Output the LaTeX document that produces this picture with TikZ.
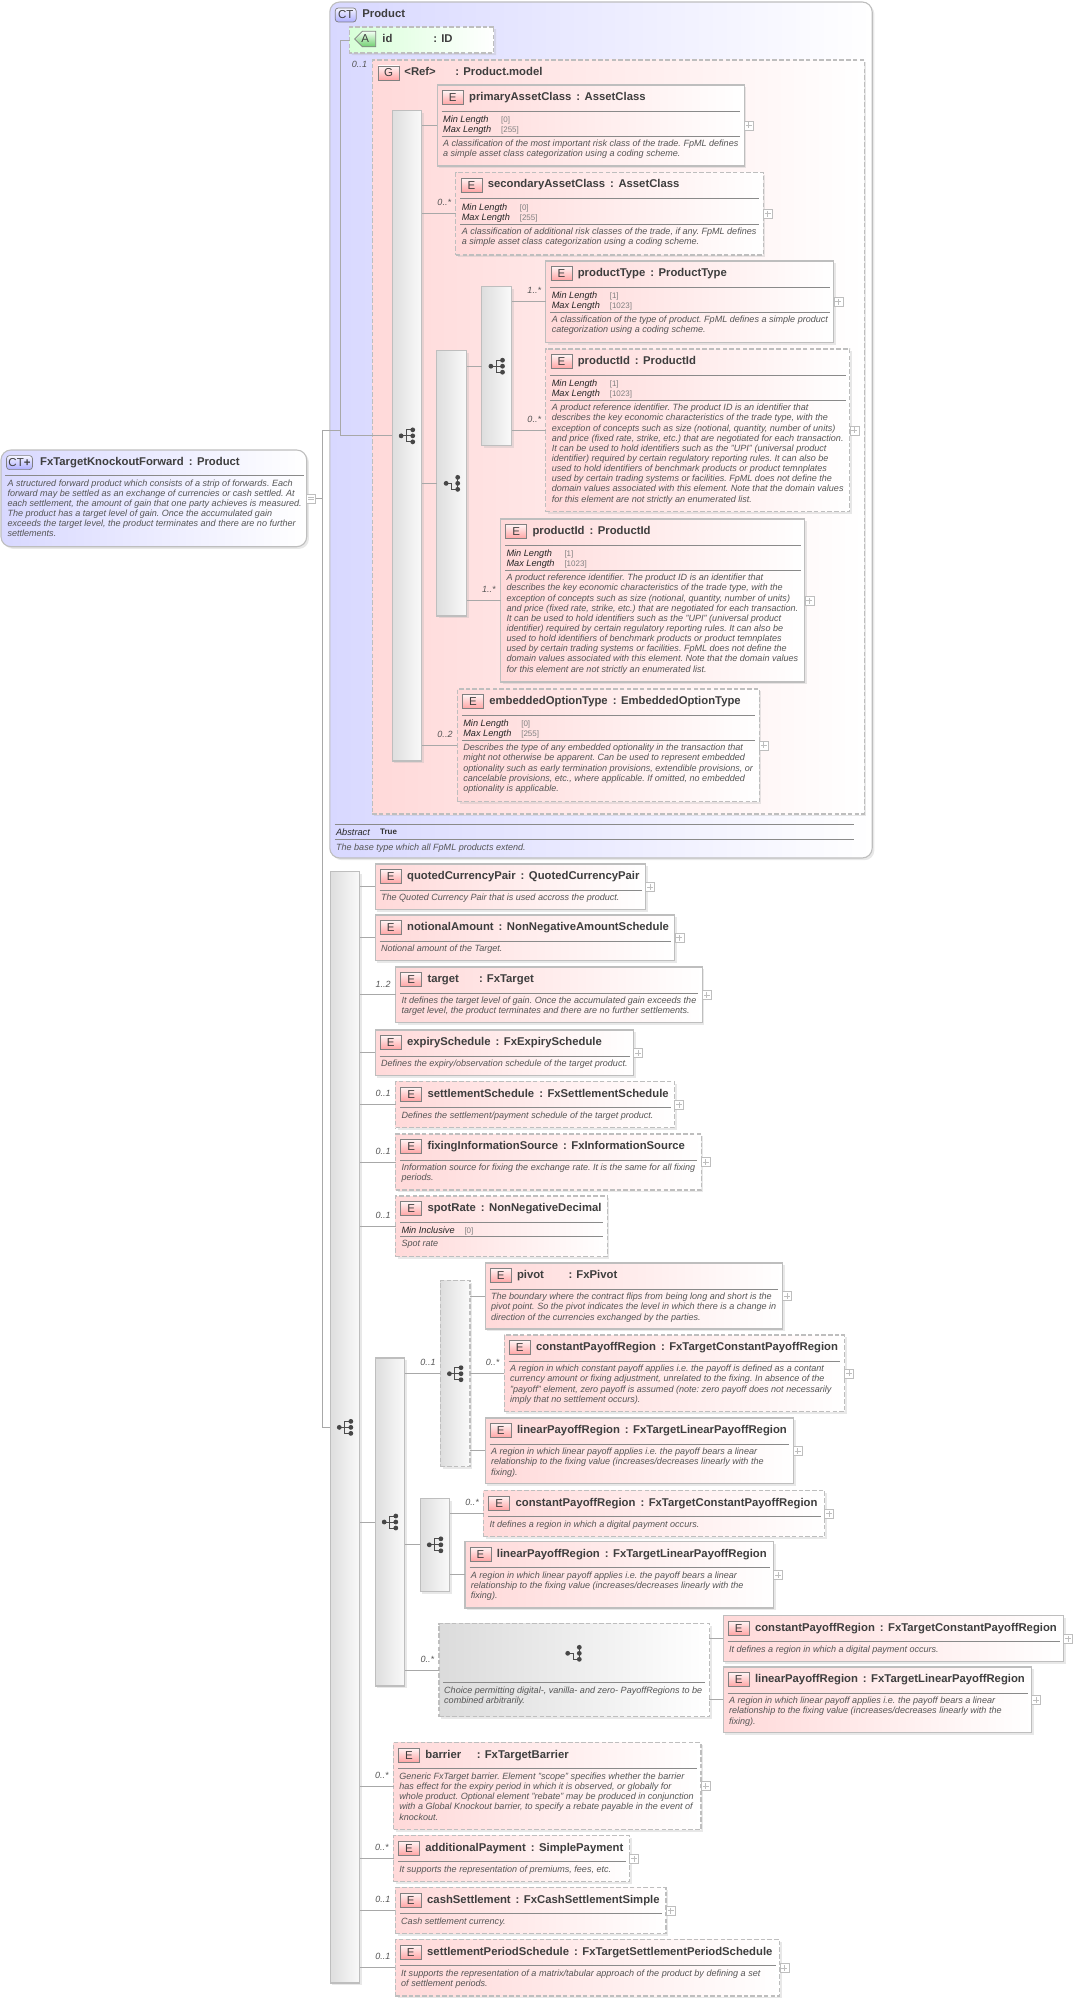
\documentclass[tikz,border=0pt]{standalone}
\usepackage{fontspec}
\setmainfont{Liberation Sans}
\usepackage{xcolor}
\definecolor{boxline}{HTML}{BEBEBE}
\definecolor{wireline}{HTML}{A8A8A8}
\definecolor{ruleline}{HTML}{8A8A8A}
\definecolor{titletext}{HTML}{3E3E3E}
\definecolor{doctext}{HTML}{555555}
\definecolor{pinkfill}{HTML}{FFD9D9}
\definecolor{bluefill}{HTML}{D8D8FF}
\definecolor{greenfill}{HTML}{D8FFD8}
\definecolor{greenbadge}{HTML}{70D070}
\usetikzlibrary{calc,positioning,shadows,shapes.misc}

\tikzset{
  softshadow/.style={drop shadow={shadow xshift=2.2pt,shadow yshift=-2.2pt,fill=black!30,opacity=.3}},
  elembox/.style={draw=boxline,line width=1.1pt,left color=pinkfill,right color=white,softshadow,
    anchor=north west,inner sep=0pt,outer sep=0pt},
  dashline/.style={dash pattern=on 4.5pt off 2.2pt},
  seqbox/.style={draw=boxline,line width=1.1pt,left color=black!13,right color=black!2,softshadow,
    anchor=north west,inner sep=0pt,outer sep=0pt},
  badge/.style={draw=black!50,line width=.7pt,top color=red!4,bottom color=red!36,text=titletext,
    minimum width=21pt,minimum height=14pt,inner sep=0pt,font=\fontsize{11.5}{12}\selectfont},
  ctbadge/.style={badge,rounded corners=3pt,top color=blue!4,bottom color=blue!32},
  titletxt/.style={anchor=base west,inner sep=0pt,text=titletext,font=\fontsize{11.3}{12}\selectfont\bfseries},
  factxt/.style={anchor=base west,inner sep=0pt,text=black!85,font=\fontsize{9.2}{10}\selectfont\itshape},
  valtxt/.style={anchor=base west,inner sep=0pt,text=black!50,font=\fontsize{8}{10}\selectfont},
  doctxt/.style={anchor=north west,inner sep=0pt,align=left,text=doctext,font=\frenchspacing\fontsize{9.05}{10.15}\selectfont\itshape},
  occtxt/.style={anchor=east,inner sep=0pt,text=doctext,font=\fontsize{9}{10}\selectfont\itshape},
  rulestroke/.style={draw=ruleline,line width=.7pt},
  wire/.style={draw=wireline,line width=.8pt},
  plusbox/.style={draw=boxline,line width=.7pt,fill=white,anchor=west,inner sep=0pt,outer sep=0pt,minimum size=9pt,
    path picture={\draw[boxline,line width=.7pt]
      ($(path picture bounding box.west)+(1.5,0)$) -- ($(path picture bounding box.east)+(-1.5,0)$)
      ($(path picture bounding box.north)+(0,1.5)$) -- ($(path picture bounding box.south)+(0,-1.5)$);}},
  minusbox/.style={draw=boxline,line width=.7pt,fill=white,anchor=west,inner sep=0pt,outer sep=0pt,minimum size=9pt,
    path picture={\draw[boxline,line width=.7pt]
      ($(path picture bounding box.west)+(1.5,-1)$) -- ($(path picture bounding box.east)+(-1.5,-1)$)
      ($(path picture bounding box.west)+(1.5,1)$) -- ($(path picture bounding box.east)+(-1.5,1)$);}},
  seqicon/.pic={
    \draw[black!70,line width=.9pt] (-5.8,0) -- (5.8,0) (5.8,-6) -| (-.4,6) -- (5.8,6);
    \foreach \iy in {-6,0,6} \fill[black!72] (5.8,\iy) circle (2.4);
    \fill[black!72] (-5.8,0) circle (2.4);
  },
  choiceicon/.pic={
    \draw[black!70,line width=.9pt] (-5.8,0) -- (0,0) -- (0,6) -- (5.8,6) (5.8,-6) -- (5.8,6);
    \foreach \iy in {-6,0,6} \fill[black!72] (5.8,\iy) circle (2.4);
    \fill[black!72] (-5.8,0) circle (2.4);
  }
}

\newcommand{\tc}{\hspace{5pt}:\hspace{4.5pt}}
% element box without plus: name, line style, x, y, width, height, title
\newcommand{\elembase}[7]{
  \node[elembox,#2,minimum width=#5,minimum height=#6] (#1) at (#3,#4) {};
  \node[badge] (#1-e) at ($(#1.north west)+(15.5,12.5)$) {E};
  \node[titletxt] (#1-t) at ($(#1.north west)+(31.7,15.3)$) {#7};
  \draw[rulestroke] ($(#1.north west)+(4.5,26)$) -- ($(#1.north east)+(-4,26)$);
}
\newcommand{\elem}[7]{
  \elembase{#1}{#2}{#3}{#4}{#5}{#6}{#7}
  \node[plusbox] (#1-p) at (#1.east) {};
}
% min and max length lines
\newcommand{\facets}[3]{
  \node[factxt] (#1-mn) at ($(#1.north west)+(5.7,37.6)$) {Min Length};
  \node[valtxt] (#1-mv) at ($(#1.north west)+(63.7,37.4)$) {[#2]};
  \node[factxt] (#1-xn) at ($(#1.north west)+(5.7,47.6)$) {Max Length};
  \node[valtxt] (#1-xv) at ($(#1.north west)+(63.7,47.4)$) {[#3]};
  \draw[rulestroke] ($(#1.north west)+(4.5,51.3)$) -- ($(#1.north east)+(-4,51.3)$);
}
\newcommand{\doc}[3]{\node[doctxt] (#1-d) at ($(#1.north west)+(5.7,#2)$) {\strut #3};}
\newcommand{\occ}[2]{\node[occtxt] (#1-o) at ($(#1.west)+(-4.7,-11)$) {#2};}
\newcommand{\seqblock}[7]{
  \node[seqbox,#2,minimum width=#5,minimum height=#6] (#1) at (#3,#4) {};
  \pic at (#1.center) {#7};
}
\newcommand{\wireto}[2]{\draw[wire] (#2.west) -- (#2.west -| #1.east);}

\begin{document}
\begin{tikzpicture}[x=1pt,y=-1pt]
  \useasboundingbox (0.8,0) rectangle (1075.8,2001);

  % Root type
  \node[elembox,left color=bluefill,rounded corners=10pt,minimum width=305.7,minimum height=96.7] (root) at (1.8,450) {};
  \node[ctbadge,minimum width=26pt] (root-e) at (20.3,462.6) {CT\textbf{+}};
  \node[titletxt] (root-t) at (40.8,465.4) {FxTargetKnockoutForward\tc Product};
  \draw[rulestroke] (5.8,475) -- (304.8,475);
  \node[doctxt] (root-d) at (8.1,478.7) {\strut A structured forward product which consists of a strip of forwards. Each\\
    forward may be settled as an exchange of currencies or cash settled. At\\
    each settlement, the amount of gain that one party achieves is measured.\\
    The product has a target level of gain. Once the accumulated gain\\
    exceeds the target level, the product terminates and there are no further\\
    settlements.};
  \node[minusbox] (root-p) at (root.east) {};

  % Base type
  \node[elembox,left color=bluefill,rounded corners=10pt,minimum width=542.4,minimum height=856] (prod) at (330.6,2) {};
  \node[ctbadge] (prod-e) at (346.5,15) {CT};
  \node[titletxt] (prod-t) at (363,17.7) {Product};
  \node[elembox,dashline,left color=greenfill,chamfered rectangle,chamfered rectangle corners={north west,south west},
    chamfered rectangle xsep=8pt,chamfered rectangle ysep=9pt,minimum width=144.2,minimum height=26] (idattr) at (350.5,27) {};
  \node[badge,chamfered rectangle,chamfered rectangle corners={north west,south west},chamfered rectangle xsep=4pt,chamfered rectangle ysep=5pt,
    top color=green!4,bottom color=greenbadge] (idattr-e) at (366,39) {A};
  \node[titletxt] (idattr-t) at (383,43) {id};
  \node[titletxt] (idattr-c) at (434,43) {: ID};
  \node[occtxt] (group-o) at (368,64) {0..1};
  \node[elembox,dashline,line width=1.4pt,minimum width=492,minimum height=754] (group) at (373,60) {};
  \node[badge] (group-e) at (389.5,73) {G};
  \node[titletxt] (group-t) at (405,75.5) {<Ref>};
  \node[titletxt] (group-c) at (456,75.5) {: Product.model};
  \draw[rulestroke] (335.7,824.3) -- (854.6,824.3);
  \node[factxt] (prod-a) at (336.7,835) {Abstract};
  \node[valtxt,text=black!80,font=\fontsize{8}{10}\selectfont\bfseries] (prod-v) at (380.7,834.5) {True};
  \draw[rulestroke] (335.7,839.3) -- (854.6,839.3);
  \node[doctxt] (prod-d) at (336.7,842.7) {\strut The base type which all FpML products extend.};

  % Compositors inside the group
  \seqblock{seqone}{}{393}{110.7}{29.5}{650.3}{seqicon}
  \seqblock{choiceone}{}{437.7}{350.7}{30}{265.3}{choiceicon}
  \seqblock{seqtwo}{}{482.7}{286.7}{29.6}{159}{seqicon}

  \elem{primary}{}{438}{85}{307}{81}{primaryAssetClass\tc AssetClass}
  \facets{primary}{0}{255}
  \doc{primary}{54.4}{A classification of the most important risk class of the trade. FpML defines\\
    a simple asset class categorization using a coding scheme.}

  \elem{secondary}{dashline}{456.7}{172.7}{307.3}{82.3}{secondaryAssetClass\tc AssetClass}
  \facets{secondary}{0}{255}
  \doc{secondary}{54.4}{A classification of additional risk classes of the trade, if any. FpML defines\\
    a simple asset class categorization using a coding scheme.}
  \occ{secondary}{0..*}

  \elem{ptype}{}{546.7}{261}{288}{81.3}{productType\tc ProductType}
  \facets{ptype}{1}{1023}
  \doc{ptype}{54.4}{A classification of the type of product. FpML defines a simple product\\
    categorization using a coding scheme.}
  \occ{ptype}{1..*}

  \elem{pidone}{dashline}{546.7}{349}{304}{162.7}{productId\tc ProductId}
  \facets{pidone}{1}{1023}
  \doc{pidone}{54.4}{A product reference identifier. The product ID is an identifier that\\
    describes the key economic characteristics of the trade type, with the\\
    exception of concepts such as size (notional, quantity, number of units)\\
    and price (fixed rate, strike, etc.) that are negotiated for each transaction.\\
    It can be used to hold identifiers such as the "UPI" (universal product\\
    identifier) required by certain regulatory reporting rules. It can also be\\
    used to hold identifiers of benchmark products or product temnplates\\
    used by certain trading systems or facilities. FpML does not define the\\
    domain values associated with this element. Note that the domain values\\
    for this element are not strictly an enumerated list.}
  \occ{pidone}{0..*}

  \elem{pidtwo}{}{501.4}{519}{304.3}{163}{productId\tc ProductId}
  \facets{pidtwo}{1}{1023}
  \doc{pidtwo}{54.4}{A product reference identifier. The product ID is an identifier that\\
    describes the key economic characteristics of the trade type, with the\\
    exception of concepts such as size (notional, quantity, number of units)\\
    and price (fixed rate, strike, etc.) that are negotiated for each transaction.\\
    It can be used to hold identifiers such as the "UPI" (universal product\\
    identifier) required by certain regulatory reporting rules. It can also be\\
    used to hold identifiers of benchmark products or product temnplates\\
    used by certain trading systems or facilities. FpML does not define the\\
    domain values associated with this element. Note that the domain values\\
    for this element are not strictly an enumerated list.}
  \occ{pidtwo}{1..*}

  \elem{embedded}{dashline}{458.2}{689}{301.8}{112.7}{embeddedOptionType\tc EmbeddedOptionType}
  \facets{embedded}{0}{255}
  \doc{embedded}{54.4}{Describes the type of any embedded optionality in the transaction that\\
    might not otherwise be apparent. Can be used to represent embedded\\
    optionality such as early termination provisions, extendible provisions, or\\
    cancelable provisions, etc., where applicable. If omitted, no embedded\\
    optionality is applicable.}
  \occ{embedded}{0..2}

  % Main sequence
  \seqblock{seqmain}{}{331}{871.7}{29.7}{1111.3}{seqicon}

  \elem{quoted}{}{376}{864}{270.4}{45.7}{quotedCurrencyPair\tc QuotedCurrencyPair}
  \doc{quoted}{29.4}{The Quoted Currency Pair that is used accross the product.}

  \elem{notional}{}{376}{915}{299.7}{45.3}{notionalAmount\tc NonNegativeAmountSchedule}
  \doc{notional}{29.4}{Notional amount of the Target.}

  \elem{target}{}{396.4}{967}{306.5}{55.7}{\makebox[51.5pt][l]{target}: FxTarget}
  \doc{target}{29.4}{It defines the target level of gain. Once the accumulated gain exceeds the\\
    target level, the product terminates and there are no further settlements.}
  \occ{target}{1..2}

  \elem{expiry}{}{376}{1030}{258.6}{45.7}{expirySchedule\tc FxExpirySchedule}
  \doc{expiry}{29.4}{Defines the expiry/observation schedule of the target product.}

  \elem{setsched}{dashline}{396.4}{1081.7}{279}{46}{settlementSchedule\tc FxSettlementSchedule}
  \doc{setsched}{29.4}{Defines the settlement/payment schedule of the target product.}
  \occ{setsched}{0..1}

  \elem{fixing}{dashline}{396.4}{1134}{305.6}{56}{fixingInformationSource\tc FxInformationSource}
  \doc{fixing}{29.4}{Information source for fixing the exchange rate. It is the same for all fixing\\
    periods.}
  \occ{fixing}{0..1}

  \elembase{spot}{dashline}{396.4}{1196}{211.5}{60.7}{spotRate\tc NonNegativeDecimal}
  \node[factxt] (spot-mn) at ($(spot.north west)+(5.7,37.6)$) {Min Inclusive};
  \node[valtxt] (spot-mv) at ($(spot.north west)+(68.7,37.4)$) {[0]};
  \draw[rulestroke] ($(spot.north west)+(4.5,40.7)$) -- ($(spot.north east)+(-4,40.7)$);
  \doc{spot}{43.4}{Spot rate}
  \occ{spot}{0..1}

  % Payoff regions
  \seqblock{seqpay}{}{376}{1358}{29.6}{328}{seqicon}
  \seqblock{seqsub}{dashline}{441.2}{1280.7}{29.6}{186}{seqicon}
  \seqblock{seqsubtwo}{}{421}{1498.3}{29.7}{93}{seqicon}
  \occ{seqsub}{0..1}

  \elem{pivot}{}{485.9}{1263}{297.3}{66}{\makebox[51.5pt][l]{pivot}: FxPivot}
  \doc{pivot}{29.4}{The boundary where the contract flips from being long and short is the\\
    pivot point. So the pivot indicates the level in which there is a change in\\
    direction of the currencies exchanged by the parties.}

  \elem{constone}{dashline}{505}{1335}{340.2}{76.7}{constantPayoffRegion\tc FxTargetConstantPayoffRegion}
  \doc{constone}{29.4}{A region in which constant payoff applies i.e. the payoff is defined as a contant\\
    currency amount or fixing adjustment, unrelated to the fixing. In absence of the\\
    "payoff" element, zero payoff is assumed (note: zero payoff does not necessarily\\
    imply that no settlement occurs).}
  \occ{constone}{0..*}

  \elem{linone}{}{485.9}{1418}{308.2}{65.7}{linearPayoffRegion\tc FxTargetLinearPayoffRegion}
  \doc{linone}{29.4}{A region in which linear payoff applies i.e. the payoff bears a linear\\
    relationship to the fixing value (increases/decreases linearly with the\\
    fixing).}

  \elem{consttwo}{dashline}{484.5}{1490.7}{341.1}{46}{constantPayoffRegion\tc FxTargetConstantPayoffRegion}
  \doc{consttwo}{29.4}{It defines a region in which a digital payment occurs.}
  \occ{consttwo}{0..*}

  \elem{lintwo}{}{465.8}{1541.7}{308.7}{66.3}{linearPayoffRegion\tc FxTargetLinearPayoffRegion}
  \doc{lintwo}{29.4}{A region in which linear payoff applies i.e. the payoff bears a linear\\
    relationship to the fixing value (increases/decreases linearly with the\\
    fixing).}

  % Documented choice
  \node[seqbox,dashline,left color=black!14,right color=white,minimum width=270.4,minimum height=93] (choicedoc) at (439.8,1623.7) {};
  \pic at (574.3,1653.3) {choiceicon};
  \draw[rulestroke] (444,1682.3) -- (706,1682.3);
  \node[doctxt] (choicedoc-d) at (444.8,1685.7) {\strut Choice permitting digital-, vanilla- and zero- PayoffRegions to be\\
    combined arbitrarily.};
  \occ{choicedoc}{0..*}

  \elem{constthree}{}{723.9}{1615.7}{340.6}{45.6}{constantPayoffRegion\tc FxTargetConstantPayoffRegion}
  \doc{constthree}{29.4}{It defines a region in which a digital payment occurs.}

  \elem{linthree}{}{723.9}{1667}{308.7}{65.7}{linearPayoffRegion\tc FxTargetLinearPayoffRegion}
  \doc{linthree}{29.4}{A region in which linear payoff applies i.e. the payoff bears a linear\\
    relationship to the fixing value (increases/decreases linearly with the\\
    fixing).}

  % Last elements
  \elem{barrier}{dashline}{394.3}{1742.7}{307.5}{86.6}{\makebox[51.5pt][l]{barrier}: FxTargetBarrier}
  \doc{barrier}{29.4}{Generic FxTarget barrier. Element "scope" specifies whether the barrier\\
    has effect for the expiry period in which it is observed, or globally for\\
    whole product. Optional element "rebate" may be produced in conjunction\\
    with a Global Knockout barrier, to specify a rebate payable in the event of\\
    knockout.}
  \occ{barrier}{0..*}

  \elem{addpay}{dashline}{394.3}{1835.7}{236.1}{46}{additionalPayment\tc SimplePayment}
  \doc{addpay}{29.4}{It supports the representation of premiums, fees, etc.}
  \occ{addpay}{0..*}

  \elem{cash}{dashline}{396.1}{1887.7}{270.7}{46}{cashSettlement\tc FxCashSettlementSimple}
  \doc{cash}{29.4}{Cash settlement currency.}
  \occ{cash}{0..1}

  \elem{period}{dashline}{396.1}{1939.7}{384.6}{56.3}{settlementPeriodSchedule\tc FxTargetSettlementPeriodSchedule}
  \doc{period}{29.4}{It supports the representation of a matrix/tabular approach of the product by defining a set\\
    of settlement periods.}
  \occ{period}{0..1}

  % Trunk lines
  \coordinate (trunk) at (323.6,430);
  \coordinate (inner) at (341.6,430);
  \draw[wire] (root-p.east) -- (root-p.east -| trunk);
  \draw[wire] (trunk) -- (inner);
  \draw[wire] (trunk) -- (trunk |- seqmain.west) -- (seqmain.west);
  \draw[wire] (idattr.west) -- (idattr.west -| inner) -- (inner |- seqone.west) -- (seqone.west);

  % Connectors
  \foreach \parent/\child in {seqone/primary,seqone/secondary,seqone/choiceone,seqone/embedded,
      choiceone/seqtwo,choiceone/pidtwo,seqtwo/ptype,seqtwo/pidone,
      seqmain/quoted,seqmain/notional,seqmain/target,seqmain/expiry,seqmain/setsched,seqmain/fixing,seqmain/spot,
      seqmain/seqpay,seqmain/barrier,seqmain/addpay,seqmain/cash,seqmain/period,
      seqpay/seqsub,seqpay/seqsubtwo,seqpay/choicedoc,seqsub/pivot,seqsub/constone,seqsub/linone,
      seqsubtwo/consttwo,seqsubtwo/lintwo,choicedoc/constthree,choicedoc/linthree}
    {\wireto{\parent}{\child}}
\end{tikzpicture}
\end{document}
